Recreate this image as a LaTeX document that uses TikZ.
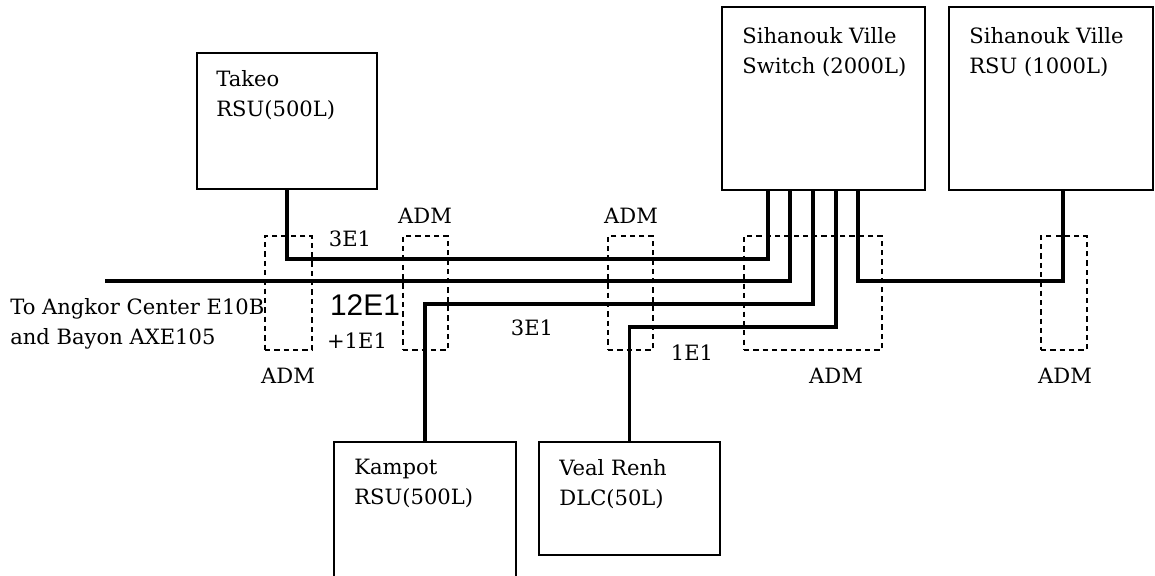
\documentclass[tikz,border=0pt]{standalone}
\usepackage{fontspec}
\setmainfont{DejaVu Serif}
\newfontfamily\sansfont{Liberation Sans}
\usetikzlibrary{fit}
\begin{document}
\begin{tikzpicture}[x=0.02cm,y=-0.02cm,line join=miter,
		box/.style={draw,line width=0.9pt,inner sep=0pt},
		adm/.style={draw,dash pattern=on 3pt off 2.3pt,line width=0.65pt,inner sep=0pt},
		link/.style={line width=2pt},
		txt/.style={anchor=north west,inner sep=0pt,align=left,font=\fontsize{12}{17}\selectfont},
		lbl/.style={inner sep=0pt,font=\fontsize{12}{17}\selectfont}]
	\useasboundingbox (0,0) rectangle (1155,575);
	% cac tram
	\node[box,fit={(197,53)(377,189)}] (takeo) {};
	\node[box,fit={(722,7)(925,190)}] (switch) {};
	\node[box,fit={(949,7)(1153,190)}] (rsu) {};
	\node[box,fit={(334,442)(516,590)}] (kampot) {};
	\node[box,fit={(539,442)(720,555)}] (veal) {};
	\node[txt] (takeoT) at (216,70) {Takeo\\RSU(500L)};
	\node[txt] (switchT) at (742,27) {Sihanouk Ville\\Switch (2000L)};
	\node[txt] (rsuT) at (969,27) {Sihanouk Ville\\RSU (1000L)};
	\node[txt] (kampotT) at (354,459) {Kampot\\RSU(500L)};
	\node[txt] (vealT) at (559,459) {Veal Renh\\DLC(50L)};
	\node[txt] (angkorT) at (10,298) {To Angkor Center E10B\\and Bayon AXE105};
	% cac ADM
	\foreach \a/\b/\n in {265/312/adm1,403/448/adm2,608/653/adm3,744/882/adm4,1041/1087/adm5}{
		\node[adm,fit={(\a,236)(\b,350)}] (\n) {};
	}
	\node[lbl] (adm1L) at (288,376) {ADM};
	\node[lbl] (adm2L) at (425,216) {ADM};
	\node[lbl] (adm3L) at (631,216) {ADM};
	\node[lbl] (adm4L) at (836,376) {ADM};
	\node[lbl] (adm5L) at (1065,376) {ADM};
	% cong ra cua switch
	\coordinate (sw1) at (768,190);
	\coordinate (sw2) at (790,190);
	\coordinate (sw3) at (813,190);
	\coordinate (sw4) at (836,190);
	\coordinate (sw5) at (858,190);
	\coordinate (rsuIn) at (1063,190);
	\coordinate (angkor) at (105,281);
	% duong truyen
	\draw[link] (takeo.south) -- (takeo.south |- 0,259) -| (sw1);
	\draw[link] (angkor) -| (sw2);
	\draw[link] (kampot.north) -- (kampot.north |- 0,304) -| (sw3);
	\draw[link] (veal.north) -- (veal.north |- 0,327) -| (sw4);
	\draw[link] (sw5) -- (sw5 |- 0,281) -| (rsuIn);
	% so luong E1
	\node[lbl] (e1a) at (350,239) {3E1};
	\node[lbl,font=\sansfont\fontsize{17}{20}\selectfont] (e1b) at (365,305) {12E1};
	\node[lbl] (e1c) at (357,341) {+1E1};
	\node[lbl] (e1d) at (532,328) {3E1};
	\node[lbl] (e1e) at (692,353) {1E1};
\end{tikzpicture}
\end{document}
